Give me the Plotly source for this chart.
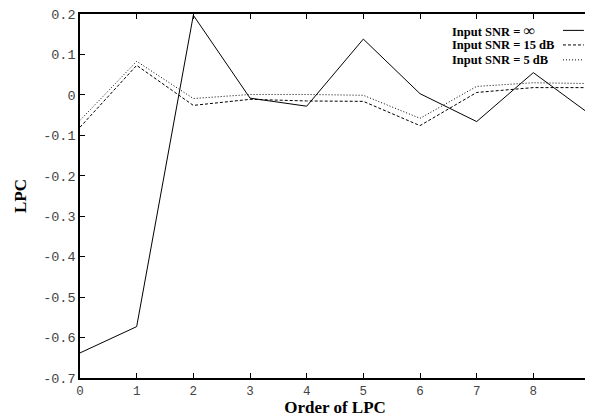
import plotly.graph_objects as go

orders = [0, 1, 2, 3, 4, 5, 6, 7, 8, 9]
snr_inf = [-0.638, -0.573, 0.197, -0.008, -0.028, 0.138, 0.003, -0.066, 0.055, -0.048]
snr_15 = [-0.080, 0.073, -0.026, -0.011, -0.015, -0.016, -0.076, 0.006, 0.018, 0.018]
snr_5 = [-0.063, 0.083, -0.009, 0.001, 0.001, -0.001, -0.058, 0.021, 0.030, 0.028]

series_names = ["Input SNR = <span style='font-size:16px'>∞</span>", "Input SNR = 15 dB", "Input SNR = 5 dB"]
series_dash = ["solid", "3px,2px", "1px,2px"]

x_tick_vals = orders
x_tick_text = ["0", "1", "2", "3", "4", "5", "6", "7", "8", "9"]
y_tick_vals = [0.2, 0.1, 0, -0.1, -0.2, -0.3, -0.4, -0.5, -0.6, -0.7]
y_tick_text = ["0.2", "0.1", "0", "-0.1", "-0.2", "-0.3", "-0.4", "-0.5", "-0.6", "-0.7"]

fig = go.Figure()
for vals, dash in zip([snr_inf, snr_15, snr_5], series_dash):
    fig.add_trace(go.Scatter(x=orders, y=vals, mode="lines",
                             line=dict(color="black", width=1, dash=dash),
                             showlegend=False))

# custom legend (text left, line sample right)
legend_rows_y = [0.955, 0.915, 0.874]
for name, dash, yy in zip(series_names, series_dash, legend_rows_y):
    fig.add_annotation(xref="paper", yref="paper", x=0.726, y=yy, text="<b>" + name + "</b>",
                       showarrow=False, xanchor="left", yanchor="middle",
                       font=dict(family="Liberation Serif", size=12.5, color="black"))
    fig.add_shape(type="line", xref="paper", yref="paper", x0=0.947, x1=0.988, y0=yy, y1=yy,
                  line=dict(color="black", width=1, dash=dash))

axis_common = dict(showline=True, linecolor="black", linewidth=1.5, mirror="allticks",
                   ticks="inside", ticklen=5, tickcolor="black", tickwidth=1,
                   showgrid=False, zeroline=False, ticklabeloverflow="allow")

fig.update_xaxes(range=[0, 9], tickvals=x_tick_vals, ticktext=x_tick_text,
                 tickfont=dict(family="Liberation Mono", size=12.5, color="#444"),
                 title=dict(text="<b>Order of LPC</b>", standoff=5,
                            font=dict(family="Liberation Serif", size=17, color="black")),
                 automargin=False, **axis_common)
fig.update_yaxes(range=[-0.7, 0.2], tickvals=y_tick_vals, ticktext=y_tick_text,
                 tickfont=dict(family="Liberation Mono", size=13.5, color="#444"),
                 title=dict(text="<b>LPC</b>", standoff=12,
                            font=dict(family="Liberation Serif", size=17, color="black")),
                 automargin=False, **axis_common)

# page body has an 8px offset; size the figure so it fills the 593x417 window
fig.update_layout(width=585, height=409, margin=dict(l=72, r=3, t=6, b=39),
                  plot_bgcolor="white", paper_bgcolor="white")

fig.write_html("out.html")
